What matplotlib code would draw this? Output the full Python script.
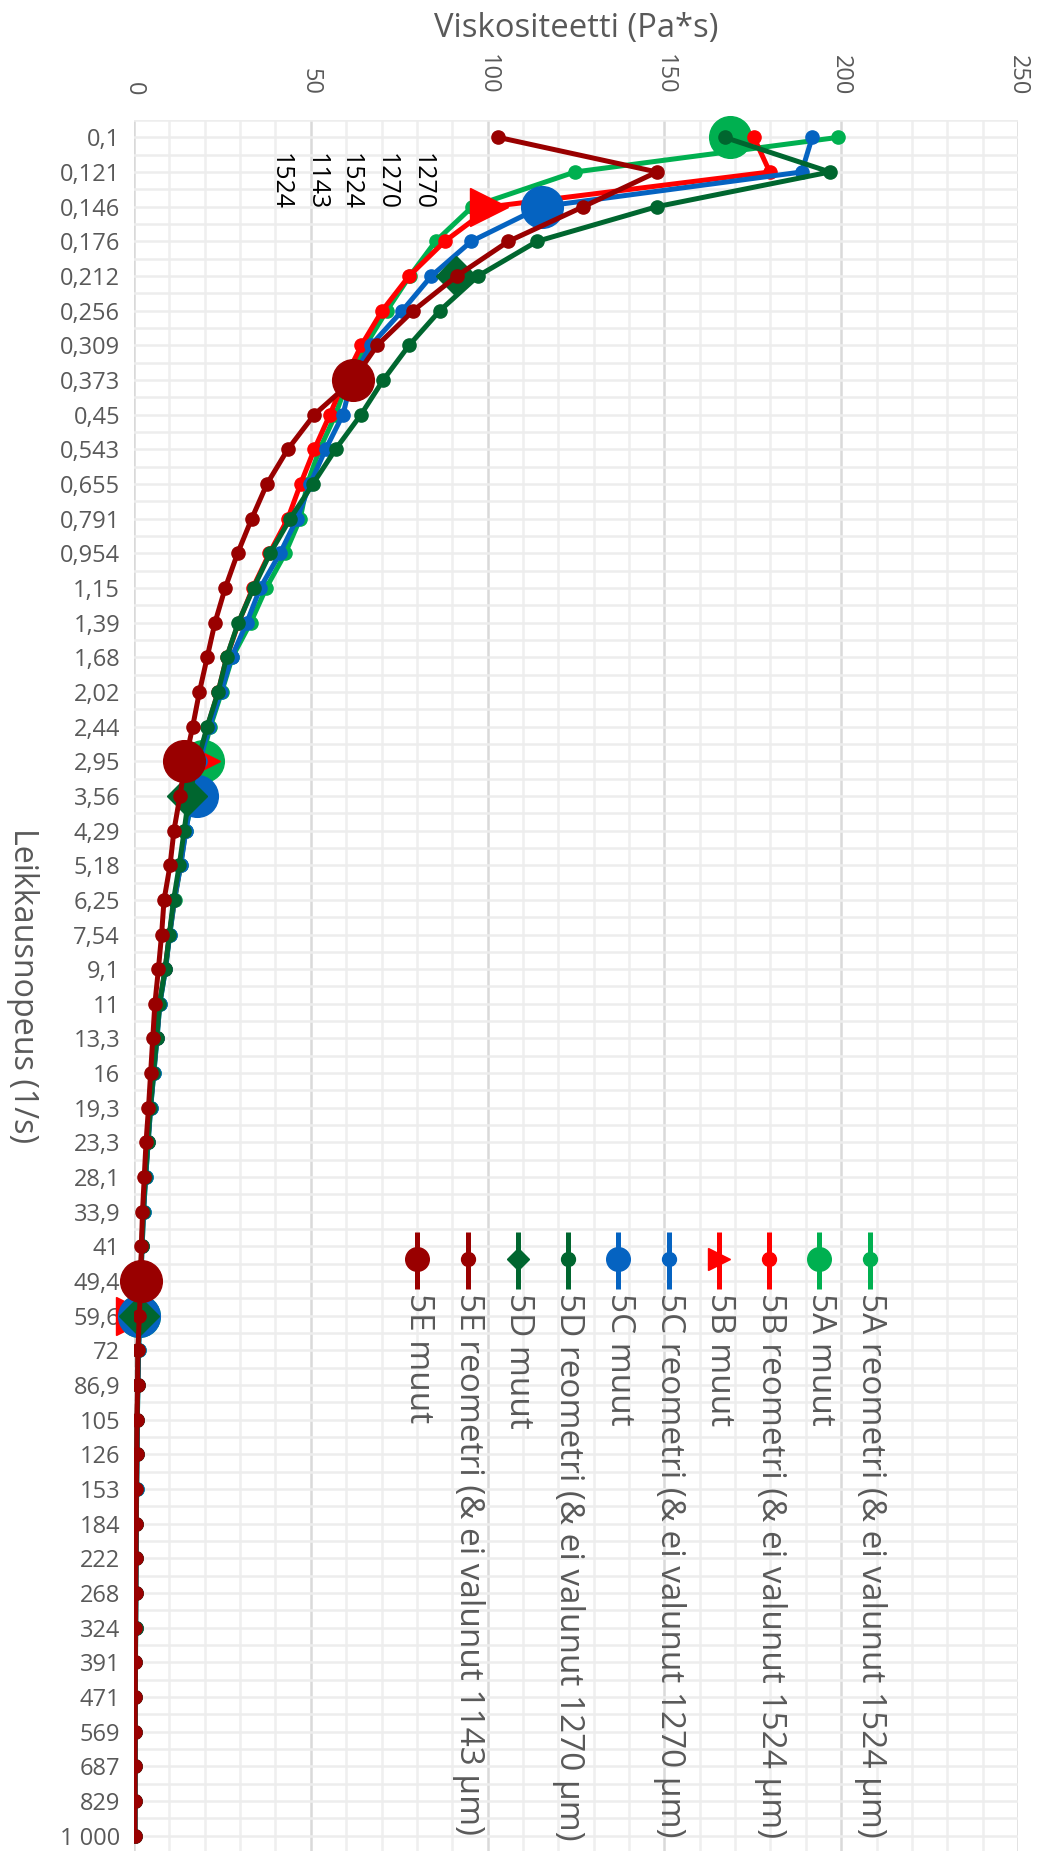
import matplotlib
matplotlib.use("Agg")
import matplotlib.pyplot as plt
from matplotlib.lines import Line2D
import numpy as np

plt.rcParams['font.family'] = ['Open Sans', 'DejaVu Sans']

# ---------------- data ----------------
shear_rates = ["0,1", "0,121", "0,146", "0,176", "0,212", "0,256", "0,309", "0,373", "0,45", "0,543",
               "0,655", "0,791", "0,954", "1,15", "1,39", "1,68", "2,02", "2,44", "2,95", "3,56",
               "4,29", "5,18", "6,25", "7,54", "9,1", "11", "13,3", "16", "19,3", "23,3",
               "28,1", "33,9", "41", "49,4", "59,6", "72", "86,9", "105", "126", "153",
               "184", "222", "268", "324", "391", "471", "569", "687", "829", "1 000"]

reo_5A = [199.2, 124.7, 95.7, 85.3, 78.0, 71.5, 65.5, 60.5, 57.0, 52.5,
          49.0, 47.0, 42.8, 37.4, 33.0, 27.8, 24.8, 21.6, 19.0, 16.6,
          14.6, 13.2, 11.5, 10.1, 8.9, 7.3, 6.5, 5.6, 4.7, 4.0,
          3.3, 2.7, 2.3, 1.9, 1.6, 1.3, 1.1, 0.95, 0.85, 0.75,
          0.66, 0.58, 0.52, 0.47, 0.42, 0.38, 0.35, 0.32, 0.29, 0.26]
reo_5B = [175.3, 179.8, 101.0, 87.9, 77.8, 70.2, 64.3, 59.5, 55.4, 51.0,
          47.1, 43.5, 38.3, 33.6, 29.6, 26.2, 23.8, 20.8, 18.2, 15.9,
          14.5, 13.1, 11.4, 10.0, 8.8, 7.2, 6.4, 5.5, 4.6, 3.9,
          3.2, 2.6, 2.2, 1.8, 1.5, 1.2, 1.05, 0.9, 0.8, 0.7,
          0.62, 0.55, 0.5, 0.45, 0.4, 0.36, 0.33, 0.3, 0.27, 0.25]
reo_5C = [191.8, 188.8, 115.3, 95.4, 84.1, 75.9, 67.0, 61.5, 59.1, 54.2,
          49.8, 46.1, 41.3, 35.7, 31.9, 27.6, 24.6, 21.3, 18.6, 16.4,
          14.7, 13.2, 11.4, 10.1, 8.9, 7.3, 6.5, 5.6, 4.7, 4.0,
          3.3, 2.7, 2.3, 1.9, 1.6, 1.3, 1.1, 0.95, 0.85, 0.75,
          0.66, 0.58, 0.52, 0.47, 0.42, 0.38, 0.35, 0.32, 0.29, 0.26]
reo_5D = [167.0, 196.8, 147.9, 114.0, 97.3, 86.5, 77.8, 70.5, 64.2, 57.0,
          50.6, 44.2, 38.5, 33.8, 29.5, 26.2, 23.8, 20.7, 18.0, 15.5,
          14.2, 12.8, 11.2, 10.0, 8.8, 7.2, 6.4, 5.5, 4.6, 3.9,
          3.2, 2.6, 2.2, 1.8, 1.5, 1.2, 1.05, 0.9, 0.8, 0.7,
          0.62, 0.55, 0.5, 0.45, 0.4, 0.36, 0.33, 0.3, 0.27, 0.25]
reo_5E = [103.0, 147.9, 127.1, 105.9, 91.3, 79.0, 68.8, 62.0, 51.0, 43.5,
          37.6, 33.3, 29.3, 25.8, 22.9, 20.7, 18.5, 16.6, 14.5, 13.0,
          11.3, 10.2, 8.5, 7.8, 6.9, 5.9, 5.3, 4.7, 4.1, 3.4,
          2.9, 2.4, 2.1, 1.9, 1.5, 1.1, 1.0, 0.85, 0.75, 0.65,
          0.6, 0.5, 0.45, 0.4, 0.36, 0.33, 0.3, 0.27, 0.25, 0.22]

muut_5A_rates = ["0,1", "2,95", "59,6"]
muut_5A_vals = [168.5, 19.6, 1.5]
muut_5B_rates = ["0,146", "2,95", "59,6"]
muut_5B_vals = [100.4, 19.0, 0.3]
muut_5C_rates = ["0,146", "3,56", "59,6"]
muut_5C_vals = [115.3, 17.7, 1.4]
muut_5D_rates = ["0,212", "3,56", "59,6"]
muut_5D_vals = [91.0, 14.9, 1.4]
muut_5E_rates = ["0,373", "2,95", "49,4"]
muut_5E_vals = [62.0, 14.0, 1.9]

series_names = ["5A reometri (& ei valunut 1524 µm)", "5A muut",
                "5B reometri (& ei valunut 1524 µm)", "5B muut",
                "5C reometri (& ei valunut 1270 µm)", "5C muut",
                "5D reometri (& ei valunut 1270 µm)", "5D muut",
                "5E reometri (& ei valunut 1143 µm)", "5E muut"]

note_labels = ["1524", "1143", "1524", "1270", "1270"]

x_title = "Viskositeetti (Pa*s)"
y_title = "Leikkausnopeus (1/s)"

# ---------------- style ----------------
W, H = 1038, 1851
DPI = 100
GRAY = "#595959"
C_A, C_B, C_C, C_D, C_E = "#00B050", "#FF0000", "#0563C1", "#00662F", "#990000"

fig = plt.figure(figsize=(W / DPI, H / DPI), dpi=DPI)
fig.patch.set_facecolor("white")

def fx(px):
    return px / W

def fy(py):
    return 1 - py / H

ax_left, ax_right, ax_top, ax_bot = 134, 1018, 120, 1853
ax = fig.add_axes([fx(ax_left), fy(ax_bot), (ax_right - ax_left) / W, (ax_bot - ax_top) / H])
ax.set_facecolor("white")

n = len(shear_rates)
ypos = np.arange(n)

ax.set_xlim(0, 250)
ax.set_ylim(n - 0.5, -0.5)

ax.set_xticks(np.arange(0, 251, 50))
ax.set_xticks(np.arange(0, 251, 10), minor=True)
ax.set_yticks(ypos)
ax.set_yticks(np.arange(-0.5, n, 1.0), minor=True)
ax.set_yticklabels(shear_rates)

ax.xaxis.tick_top()
ax.tick_params(axis="both", which="both", length=0)
ax.tick_params(axis="x", which="major", pad=18, labelsize=17, labelcolor=GRAY, labelrotation=-90)
ax.tick_params(axis="y", which="major", pad=10, labelsize=17, labelcolor=GRAY)

ax.set_axisbelow(True)
ax.grid(which="major", axis="x", color="#D9D9D9", lw=1.8)
ax.grid(which="minor", axis="x", color="#EFEFEF", lw=1.8)
ax.grid(which="both", axis="y", color="#EDEDED", lw=1.8)
for s in ax.spines.values():
    s.set_visible(False)

reo_kw = dict(lw=3.6, marker="o", ms=9.5, solid_joinstyle="round", solid_capstyle="round")

def muut_y(rates):
    return [shear_rates.index(r) for r in rates]

z = 3
ax.plot(reo_5A, ypos, color=C_A, mec=C_A, zorder=z, **reo_kw); z += 1
ax.plot(muut_5A_vals, muut_y(muut_5A_rates), ls="none", marker="o", ms=30, color=C_A, mec=C_A, zorder=z, clip_on=False); z += 1
ax.plot(reo_5B, ypos, color=C_B, mec=C_B, zorder=z, **reo_kw); z += 1
ax.plot(muut_5B_vals, muut_y(muut_5B_rates), ls="none", marker=">", ms=27, color=C_B, mec=C_B, zorder=z, clip_on=False); z += 1
ax.plot(reo_5C, ypos, color=C_C, mec=C_C, zorder=z, **reo_kw); z += 1
ax.plot(muut_5C_vals, muut_y(muut_5C_rates), ls="none", marker="o", ms=30, color=C_C, mec=C_C, zorder=z, clip_on=False); z += 1
ax.plot(reo_5D, ypos, color=C_D, mec=C_D, zorder=z, **reo_kw); z += 1
ax.plot(muut_5D_vals, muut_y(muut_5D_rates), ls="none", marker="D", ms=20, color=C_D, mec=C_D, zorder=z, clip_on=False); z += 1
ax.plot(reo_5E, ypos, color=C_E, mec=C_E, zorder=z, **reo_kw); z += 1
ax.plot(muut_5E_vals, muut_y(muut_5E_rates), ls="none", marker="o", ms=30, color=C_E, mec=C_E, zorder=z, clip_on=False); z += 1

renderer = fig.canvas.get_renderer()

def fit(t, target, dim="w"):
    bb = t.get_window_extent(renderer)
    cur = bb.width if dim == "w" else bb.height
    t.set_fontsize(t.get_fontsize() * target / cur)

# annotations (rotated numbers near top)
note_x = [41.3, 51.5, 61.1, 71.3, 81.4]
for xv, lab in zip(note_x, note_labels):
    t = ax.text(xv, 0.45, lab, rotation=-90, ha="center", va="top", fontsize=20, color="black", zorder=20)
    fit(t, 57, "h")

# axis titles
tt = fig.text(fx(576), fy(36.7), x_title, ha="center", va="baseline", fontsize=21, color=GRAY)
fit(tt, 283, "w")
ty = fig.text(fx(22), fy(986), y_title, ha="center", va="center", rotation=-90,
              fontsize=21, color=GRAY)
fit(ty, 315, "h")

# legend (rotated)
leg_styles = [(C_A, "o", 10), (C_A, "o", 17), (C_B, "o", 10), (C_B, ">", 16),
              (C_C, "o", 10), (C_C, "o", 17), (C_D, "o", 10), (C_D, "D", 11.5),
              (C_E, "o", 10), (C_E, "o", 17)]
leg_texts = []
for i, (name, (col, mk, ms)) in enumerate(zip(series_names, leg_styles)):
    xc = 869.5 - 50.25 * i
    fig.add_artist(Line2D([fx(xc), fx(xc)], [fy(1232), fy(1289)], transform=fig.transFigure,
                          color=col, lw=3.6, solid_capstyle="butt"))
    fig.add_artist(Line2D([fx(xc)], [fy(1259)], transform=fig.transFigure, ls="none",
                          marker=mk, ms=ms, color=col, mec=col))
    t = fig.text(fx(xc + 1), fy(1293), name, rotation=-90, ha="center", va="top",
                 fontsize=20, color=GRAY)
    leg_texts.append(t)
bb = leg_texts[0].get_window_extent(renderer)
scale = 544 / bb.height
for t in leg_texts:
    t.set_fontsize(t.get_fontsize() * scale)

fig.savefig("out.png", dpi=DPI, facecolor="white")
